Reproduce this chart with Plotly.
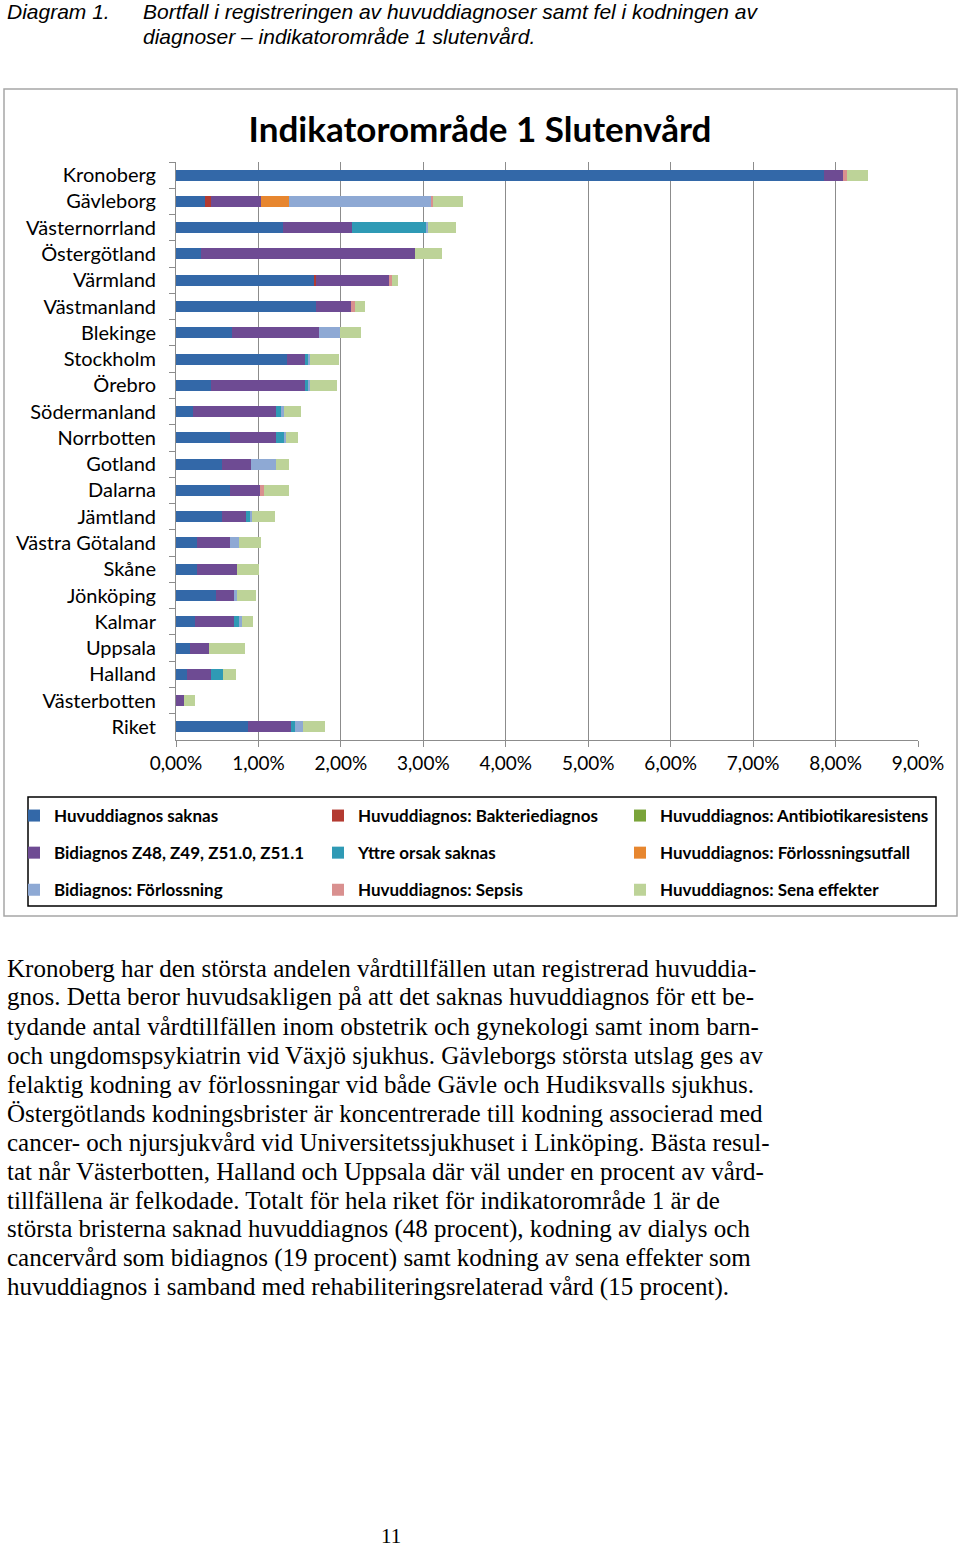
import plotly.graph_objects as go

W, H = 960, 1549

categories = ["Kronoberg", "Gävleborg", "Västernorrland", "Östergötland", "Värmland",
              "Västmanland", "Blekinge", "Stockholm", "Örebro", "Södermanland",
              "Norrbotten", "Gotland", "Dalarna", "Jämtland", "Västra Götaland",
              "Skåne", "Jönköping", "Kalmar", "Uppsala", "Halland", "Västerbotten", "Riket"]

# values in percent
huvuddiagnos_saknas = [7.86, 0.35, 1.30, 0.30, 1.675, 1.70, 0.68, 1.35, 0.425, 0.21,
                       0.655, 0.555, 0.655, 0.555, 0.26, 0.25, 0.485, 0.23, 0.17, 0.13, 0.0, 0.87]
bakteriediagnos = [0, 0.08, 0, 0, 0.025, 0, 0, 0, 0, 0,
                   0, 0, 0, 0, 0, 0, 0, 0, 0, 0, 0, 0]
antibiotikaresistens = [0] * 22
bidiagnos_z = [0.227, 0.60, 0.83, 2.60, 0.886, 0.42, 1.05, 0.215, 1.14, 1.00,
               0.56, 0.355, 0.365, 0.30, 0.40, 0.485, 0.23, 0.47, 0.235, 0.29, 0.10, 0.52]
yttre_orsak = [0, 0, 0.90, 0, 0, 0, 0, 0.04, 0.03, 0.06,
               0.09, 0, 0, 0.05, 0, 0, 0, 0.065, 0, 0.155, 0, 0.05]
forlossningsutfall = [0, 0.34, 0, 0, 0, 0, 0, 0, 0, 0,
                      0, 0, 0, 0, 0, 0, 0, 0, 0, 0, 0, 0]
bidiagnos_forlossning = [0, 1.72, 0.03, 0, 0, 0, 0.26, 0.015, 0.03, 0.035,
                         0.03, 0.30, 0, 0.015, 0.10, 0, 0.02, 0.03, 0, 0, 0, 0.095]
sepsis = [0.049, 0.03, 0, 0, 0.03, 0.05, 0, 0, 0, 0,
          0, 0, 0.045, 0, 0, 0, 0, 0, 0, 0, 0, 0]
sena_effekter = [0.255, 0.36, 0.34, 0.33, 0.08, 0.12, 0.25, 0.36, 0.33, 0.215,
                 0.145, 0.16, 0.31, 0.275, 0.275, 0.275, 0.235, 0.135, 0.435, 0.15, 0.13, 0.275]

series_names = ["Huvuddiagnos saknas", "Huvuddiagnos: Bakteriediagnos", "Huvuddiagnos: Antibiotikaresistens",
                "Bidiagnos Z48, Z49, Z51.0, Z51.1", "Yttre orsak saknas", "Huvuddiagnos: Förlossningsutfall",
                "Bidiagnos: Förlossning", "Huvuddiagnos: Sepsis", "Huvuddiagnos: Sena effekter"]
series_values = [huvuddiagnos_saknas, bakteriediagnos, antibiotikaresistens, bidiagnos_z, yttre_orsak,
                 forlossningsutfall, bidiagnos_forlossning, sepsis, sena_effekter]
series_colors = ["#3368A8", "#B33A31", "#7AA43A", "#6E4B93", "#2F9AB5",
                 "#E7862F", "#8EA9D4", "#D9908F", "#BDD398"]
legend_ids = ["legend", "legend2", "legend3"] * 3

tick_vals = [0, 1, 2, 3, 4, 5, 6, 7, 8, 9]
tick_labels = ["0,00%", "1,00%", "2,00%", "3,00%", "4,00%", "5,00%", "6,00%", "7,00%", "8,00%", "9,00%"]

def X(px):
    return px / W

def Y(py):
    return 1 - py / H

fig = go.Figure()
for i, (name, vals, col) in enumerate(zip(series_names, series_values, series_colors)):
    fig.add_trace(go.Bar(
        x=vals, y=categories, orientation="h", name=name,
        marker=dict(color=col, line=dict(width=0)),
        legend=legend_ids[i], legendgroup=f"g{i}",
    ))

label_font = dict(family="Lato", size=20, color="#000000")
tick_font = dict(family="Lato", size=19, color="#000000")
legend_font = dict(family="Lato", size=17, color="#000000", weight="bold")

common_legend = dict(orientation="v", font=legend_font, bgcolor="rgba(0,0,0,0)",
                     borderwidth=0, tracegroupgap=12, itemwidth=30,
                     xanchor="left", yanchor="top", y=Y(798))

fig.update_layout(
    width=W, height=H,
    margin=dict(l=0, r=0, t=0, b=0, autoexpand=False),
    paper_bgcolor="white", plot_bgcolor="white",
    barmode="stack", bargap=0.58,
    showlegend=True,
    legend=dict(common_legend, x=X(14)),
    legend2=dict(common_legend, x=X(318)),
    legend3=dict(common_legend, x=X(620)),
    title=dict(text="<b>Indikatorområde 1 Slutenvård</b>", x=0.5, xanchor="center",
               y=Y(130), yanchor="middle", font=dict(family="Lato", size=35, color="#000000")),
    xaxis=dict(domain=[X(176), X(918)], range=[0, 9], tickvals=tick_vals, ticktext=tick_labels,
               showgrid=True, gridcolor="#8C8C8C", gridwidth=1,
               zeroline=False, showline=True, linecolor="#8C8C8C", linewidth=1,
               ticks="outside", ticklen=6, tickcolor="#8C8C8C", tickfont=tick_font,
               automargin=False),
    yaxis=dict(domain=[Y(740), Y(162)], autorange="reversed", type="category",
               showline=True, linecolor="#8C8C8C", linewidth=1, ticks="outside",
               tickson="boundaries", ticklen=6, tickcolor="#8C8C8C", tickfont=label_font,
               ticklabelstandoff=15, showgrid=False, automargin=False),
)

# chart box and legend box
fig.add_shape(type="rect", xref="paper", yref="paper", x0=X(4), x1=X(957), y0=Y(89), y1=Y(916),
              line=dict(color="#A6A6A6", width=1.5), fillcolor="rgba(0,0,0,0)", layer="below")
fig.add_shape(type="rect", xref="paper", yref="paper", x0=X(28), x1=X(936), y0=Y(797), y1=Y(906),
              line=dict(color="#000000", width=1.5), fillcolor="rgba(0,0,0,0)")

# header
head_font = dict(family="Liberation Sans Narrow, Liberation Sans", size=21, color="#000000")
fig.add_annotation(text="<i>Diagram 1.</i>", x=X(5), y=Y(12), xref="paper", yref="paper",
                   xanchor="left", yanchor="middle", showarrow=False, font=head_font)
fig.add_annotation(text="<i>Bortfall i registreringen av huvuddiagnoser samt fel i kodningen av</i>",
                   x=X(141), y=Y(12), xref="paper", yref="paper",
                   xanchor="left", yanchor="middle", showarrow=False, font=head_font)
fig.add_annotation(text="<i>diagnoser – indikatorområde 1 slutenvård.</i>",
                   x=X(141), y=Y(36), xref="paper", yref="paper",
                   xanchor="left", yanchor="middle", showarrow=False, font=head_font)

body_lines = [
    "Kronoberg har den största andelen vårdtillfällen utan registrerad huvuddia-",
    "gnos. Detta beror huvudsakligen på att det saknas huvuddiagnos för ett be-",
    "tydande antal vårdtillfällen inom obstetrik och gynekologi samt inom barn-",
    "och ungdomspsykiatrin vid Växjö sjukhus. Gävleborgs största utslag ges av",
    "felaktig kodning av förlossningar vid både Gävle och Hudiksvalls sjukhus.",
    "Östergötlands kodningsbrister är koncentrerade till kodning associerad med",
    "cancer- och njursjukvård vid Universitetssjukhuset i Linköping. Bästa resul-",
    "tat når Västerbotten, Halland och Uppsala där väl under en procent av vård-",
    "tillfällena är felkodade. Totalt för hela riket för indikatorområde 1 är de",
    "största bristerna saknad huvuddiagnos (48 procent), kodning av dialys och",
    "cancervård som bidiagnos (19 procent) samt kodning av sena effekter som",
    "huvuddiagnos i samband med rehabiliteringsrelaterad vård (15 procent).",
]
body_font = dict(family="Liberation Serif", size=25, color="#000000")
for k, line in enumerate(body_lines):
    fig.add_annotation(text=line, x=X(5), y=Y(968 + 29 * k), xref="paper", yref="paper",
                       xanchor="left", yanchor="middle", showarrow=False, font=body_font)

fig.add_annotation(text="11", x=X(391), y=Y(1536), xref="paper", yref="paper",
                   xanchor="center", yanchor="middle", showarrow=False,
                   font=dict(family="Liberation Serif", size=21, color="#000000"))

fig.write_html("out.html", config={"displayModeBar": False},
               post_script="document.body.style.margin='0';")
